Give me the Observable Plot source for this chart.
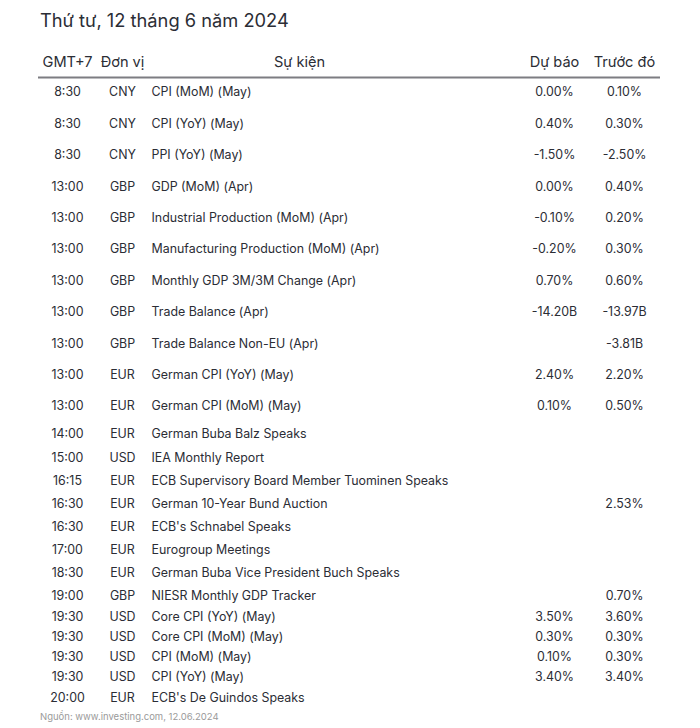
<!DOCTYPE html>
<html>
<head>
<meta charset="utf-8">
<script src="https://cdn.jsdelivr.net/npm/d3@7"></script>
<script src="https://cdn.jsdelivr.net/npm/@observablehq/plot@0.6"></script>
<style>
  html, body { margin: 0; padding: 0; background: #fff; }
  body { width: 700px; height: 728px; font-family: Inter, "Noto Sans", sans-serif; color: #2b2d35; }
  #title { height: 42px; line-height: 40px; padding-left: 40px; font-size: 18.3px; box-sizing: border-box; }
  #footer { height: 22px; line-height: 22px; padding-left: 40px; font-size: 9.5px; color: #9a9a9a; }
  svg { display: block; }
</style>
</head>
<body>
<div id="title">Thứ tư, 12 tháng 6 năm 2024</div>
<div id="chart"></div>
<div id="footer">Nguồn: www.investing.com, 12.06.2024</div>
<script>
const headers = ["GMT+7", "Đơn vị", "Sự kiện", "Dự báo", "Trước đó"];

const times = ["8:30","8:30","8:30","13:00","13:00","13:00","13:00","13:00","13:00","13:00","13:00",
  "14:00","15:00","16:15","16:30","16:30","17:00","18:30","19:00","19:30","19:30","19:30","19:30","20:00"];

const currencies = ["CNY","CNY","CNY","GBP","GBP","GBP","GBP","GBP","GBP","EUR","EUR",
  "EUR","USD","EUR","EUR","EUR","EUR","EUR","GBP","USD","USD","USD","USD","EUR"];

const events = [
  "CPI (MoM) (May)",
  "CPI (YoY) (May)",
  "PPI (YoY) (May)",
  "GDP (MoM) (Apr)",
  "Industrial Production (MoM) (Apr)",
  "Manufacturing Production (MoM) (Apr)",
  "Monthly GDP 3M/3M Change (Apr)",
  "Trade Balance (Apr)",
  "Trade Balance Non-EU (Apr)",
  "German CPI (YoY) (May)",
  "German CPI (MoM) (May)",
  "German Buba Balz Speaks",
  "IEA Monthly Report",
  "ECB Supervisory Board Member Tuominen Speaks",
  "German 10-Year Bund Auction",
  "ECB's Schnabel Speaks",
  "Eurogroup Meetings",
  "German Buba Vice President Buch Speaks",
  "NIESR Monthly GDP Tracker",
  "Core CPI (YoY) (May)",
  "Core CPI (MoM) (May)",
  "CPI (MoM) (May)",
  "CPI (YoY) (May)",
  "ECB's De Guindos Speaks"
];

const forecast = ["0.00%","0.40%","-1.50%","0.00%","-0.10%","-0.20%","0.70%","-14.20B","","2.40%","0.10%",
  "","","","","","","","","3.50%","0.30%","0.10%","3.40%",""];

const previous = ["0.10%","0.30%","-2.50%","0.40%","0.20%","0.30%","0.60%","-13.97B","-3.81B","2.20%","0.50%",
  "","","","2.53%","","","","0.70%","3.60%","0.30%","0.30%","3.40%",""];

// layout (not data)
const colX = {time: 67, cur: 122, event: 151, eventHead: 299, fc: 554, prev: 624};
const rowBreaks = [0, 10, 11, 18, 22, 23];
const rowPos = [50, 364, 392, 554, 635, 656];

const rows = times.map((t, i) => ({i, time: t, cur: currencies[i], event: events[i], fc: forecast[i], prev: previous[i]}));
const head = [
  {x: colX.time, label: headers[0]},
  {x: colX.cur, label: headers[1]},
  {x: colX.eventHead, label: headers[2]},
  {x: colX.fc, label: headers[3]},
  {x: colX.prev, label: headers[4]}
];

const plot = Plot.plot({
  width: 700,
  height: 664,
  margin: 0,
  style: {fontFamily: "Inter, 'Noto Sans', sans-serif", fontSize: "12.4px", color: "#2b2d35", background: "#fff"},
  x: {type: "linear", domain: [0, 700], range: [0, 700], axis: null},
  y: {type: "linear", domain: rowBreaks, range: rowPos, axis: null},
  marks: [
    Plot.text(head, {x: "x", y: () => -0.96, text: "label", fontSize: 14.6, textAnchor: "middle"}),
    Plot.ruleY([0], {y: () => -0.48, x1: 38, x2: 660, stroke: "#7d7d82", strokeWidth: 2}),
    Plot.text(rows, {x: () => colX.time, y: "i", text: "time", textAnchor: "middle"}),
    Plot.text(rows, {x: () => colX.cur, y: "i", text: "cur", textAnchor: "middle"}),
    Plot.text(rows, {x: () => colX.event, y: "i", text: "event", textAnchor: "start"}),
    Plot.text(rows.filter(d => d.fc), {x: () => colX.fc, y: "i", text: "fc", textAnchor: "middle"}),
    Plot.text(rows.filter(d => d.prev), {x: () => colX.prev, y: "i", text: "prev", textAnchor: "middle"})
  ]
});
document.getElementById("chart").appendChild(plot);
</script>
</body>
</html>
